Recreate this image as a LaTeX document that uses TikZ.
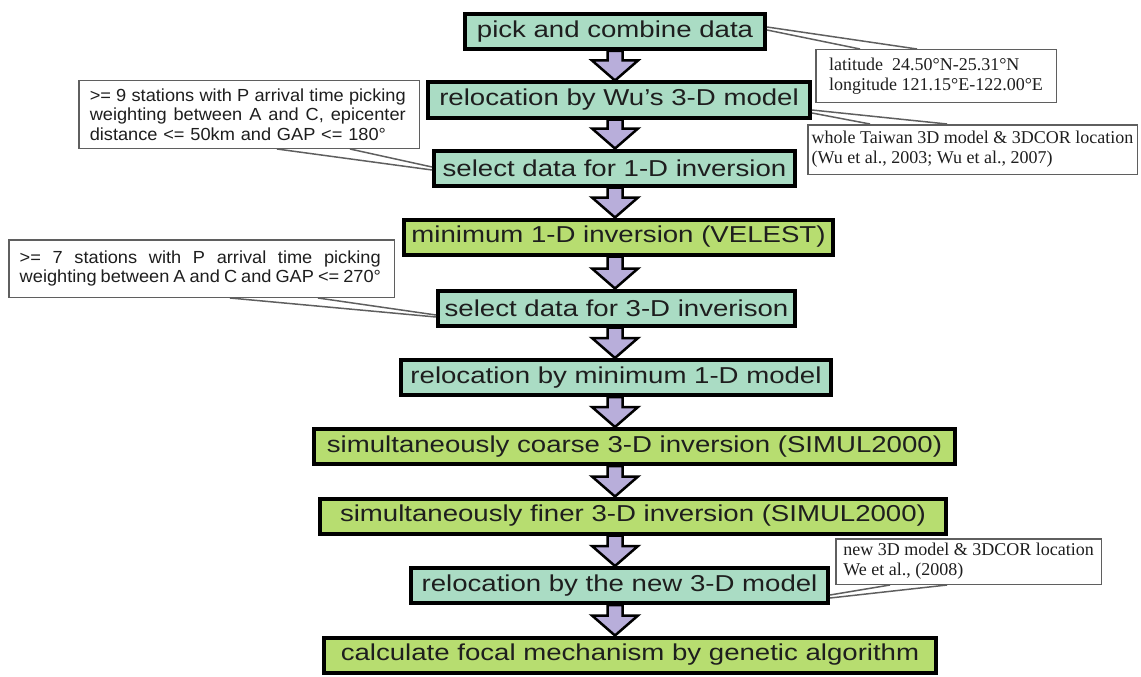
\documentclass[tikz,border=0pt]{standalone}
\usepackage{fontspec}
\setmainfont{Liberation Sans}
\newfontfamily\flowfont[FakeStretch=1.2]{Liberation Sans}
\newfontfamily\notefont[FakeStretch=1.04]{Liberation Sans}
\newfontfamily\citefont{Liberation Serif}
\usetikzlibrary{calc, positioning}
\definecolor{tealFill}{RGB}{170,220,196}
\definecolor{limeFill}{RGB}{183,221,112}
\definecolor{arrowFill}{RGB}{184,174,218}
\definecolor{noteGray}{RGB}{95,95,95}
\definecolor{inkDark}{RGB}{30,30,30}
\tikzset{
    stepTeal/.style={draw=black, line width=4pt, fill=tealFill, minimum height=35pt, inner sep=0pt, text=inkDark, font=\flowfont\fontsize{23}{26}\selectfont},
    stepLime/.style={stepTeal, fill=limeFill},
    noteBox/.style={draw=noteGray, line width=1.5pt, fill=white, inner xsep=11pt, inner ysep=0pt, align=left, text=inkDark, font=\notefont\fontsize{17.5}{19.5}\selectfont},
    citeBox/.style={noteBox, inner xsep=3pt, font=\citefont\fontsize{18}{20}\selectfont},
    pointerLine/.style={draw=noteGray, line width=1.5pt},
    blockArrow/.style={draw=black, line width=2.5pt, fill=arrowFill, line join=miter},
}
\newcommand{\flowArrow}[2]{
    \draw[blockArrow] let \p1 = (arrx |- #1.south), \p2 = (arrx |- #2.north) in
        (\x1-7.5pt, \y1) -- (\x1-7.5pt, \y2+20pt) -- (\x1-23pt, \y2+20pt) -- (\x2, \y2)
        -- (\x1+23pt, \y2+20pt) -- (\x1+7.5pt, \y2+20pt) -- (\x1+7.5pt, \y1) -- cycle;
}
\newcommand{\drawPointer}[6]{
    \draw[pointerLine] ($(#1)+(#2,0)$) -- ($(#4)+(0,#5)$);
    \draw[pointerLine] ($(#1)+(#3,0)$) -- ($(#4)+(0,#6)$);
}
% justified line (tikz sets a rigid \spaceskip for align=left)
\newcommand{\fullLine}[2]{\leavevmode\hbox to #1{\spaceskip=0.28em plus 1em minus 0.05em\relax #2}}

\begin{document}
\begin{tikzpicture}[x=1pt, y=-1pt]
    \useasboundingbox (0, 0) rectangle (1141, 677);
    \coordinate (arrx) at (615, 0);

    % flow steps
    \node[stepTeal, minimum width=300pt] (pick) at (615, 31.5) {pick and combine data};
    \node[stepTeal, minimum width=382pt] (relocWu) at (619, 100) {relocation by Wu’s 3-D model};
    \node[stepTeal, minimum width=361pt] (selOne) at (614.5, 168) {select data for 1-D inversion};
    \node[stepLime, minimum width=429pt] (invOne) at (618.5, 237) {minimum 1-D inversion (VELEST)};
    \node[stepTeal, minimum width=357pt] (selThree) at (616.5, 308) {select data for 3-D inverison};
    \node[stepTeal, minimum width=430pt] (relocOne) at (616, 377.5) {relocation by minimum 1-D model};
    \node[stepLime, minimum width=641pt] (coarse) at (634.5, 446.5) {simultaneously coarse 3-D inversion (SIMUL2000)};
    \node[stepLime, minimum width=626pt] (finer) at (633, 516) {simultaneously finer 3-D inversion (SIMUL2000)};
    \node[stepTeal, minimum width=417pt] (relocNew) at (619.5, 585.5) {relocation by the new 3-D model};
    \node[stepLime, minimum width=612pt] (focal) at (630, 655) {calculate focal mechanism by genetic algorithm};

    % arrows
    \flowArrow{pick}{relocWu}
    \flowArrow{relocWu}{selOne}
    \flowArrow{selOne}{invOne}
    \flowArrow{invOne}{selThree}
    \flowArrow{selThree}{relocOne}
    \flowArrow{relocOne}{coarse}
    \flowArrow{coarse}{finer}
    \flowArrow{finer}{relocNew}
    \flowArrow{relocNew}{focal}

    % notes
    \node[citeBox, minimum width=240.5pt, minimum height=52.5pt] (noteArea) at (936, 76)
        {latitude\ \ 24.50°N-25.31°N\\longitude 121.15°E-122.00°E};
    \node[citeBox, minimum width=329.5pt, minimum height=49.5pt] (noteWu) at (972.5, 149.5)
        {whole Taiwan 3D model \& 3DCOR location\\(Wu et al., 2003; Wu et al., 2007)};
    \node[noteBox, text width=318.5pt, minimum height=67.5pt] (noteSelOne) at (249, 114.5)
        {\fullLine{316pt}{>= 9 stations with P arrival time picking}\\
         \fullLine{316pt}{weighting between A and C, epicenter}\\
         distance <= 50km and GAP <= 180°};
    \node[noteBox, text width=363.5pt, minimum height=57.5pt] (noteSelThree) at (201.5, 268.5)
        {\fullLine{361pt}{>= 7 stations with P arrival time picking}\\
         \fullLine{361pt}{weighting between A and C and GAP <= 270°}};
    \node[citeBox, minimum width=265.5pt, minimum height=45.5pt] (noteNew) at (968.5, 561.5)
        {new 3D model \& 3DCOR location\\We et al., (2008)};

    \drawPointer{noteArea.north west}{45}{102}{pick.east}{-1.5}{-4.5}
    \drawPointer{noteWu.north west}{63}{140}{relocWu.east}{13}{10}
    \drawPointer{noteSelOne.south west}{199}{272}{selOne.west}{2}{-1}
    \drawPointer{noteSelThree.south west}{222}{310}{selThree.west}{9}{7}
    \drawPointer{noteNew.south west}{55}{112}{relocNew.east}{9.5}{12.5}

\end{tikzpicture}
\end{document}
